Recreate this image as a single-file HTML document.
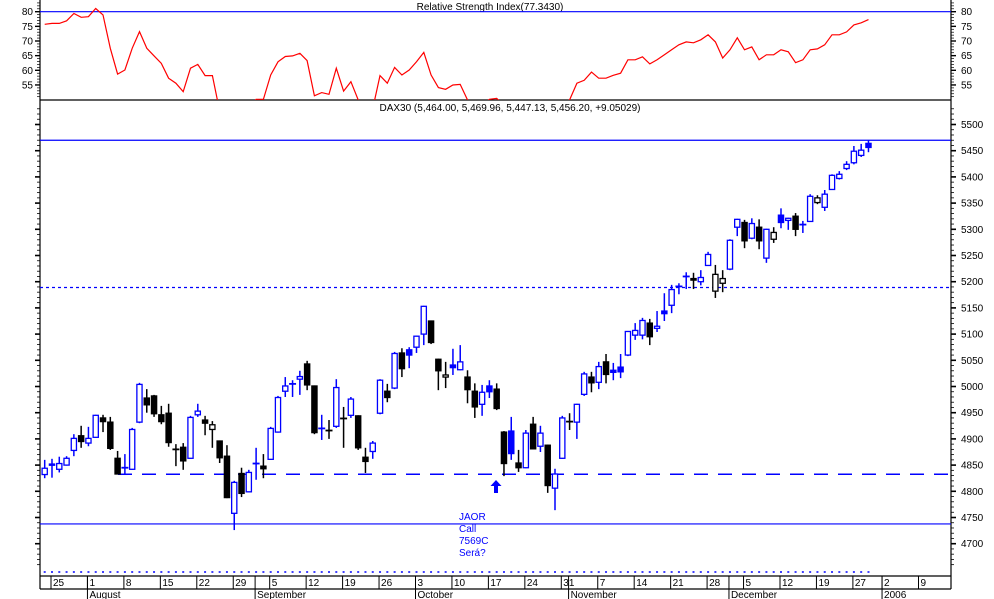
<!DOCTYPE html>
<html><head><meta charset="utf-8">
<style>
html,body{margin:0;padding:0;background:#fff;}
svg{display:block;font-family:"Liberation Sans",sans-serif;}
</style></head>
<body>
<svg id="chart" width="994" height="599" viewBox="0 0 994 599" xmlns="http://www.w3.org/2000/svg">
<defs>
 <clipPath id="rsiClip"><rect x="40" y="0" width="911" height="100"/></clipPath>
</defs>
<rect x="0" y="0" width="994" height="599" fill="#fff"/>
<g id="frame" stroke="#000" stroke-width="1.2">
 <line x1="40" y1="0" x2="40" y2="589"/>
 <line x1="951" y1="0" x2="951" y2="589"/>
 <line x1="40" y1="100" x2="951" y2="100"/>
 <line x1="40" y1="576" x2="951" y2="576"/>
 <line x1="40" y1="589" x2="951" y2="589"/>
</g>
<text x="490" y="10" font-size="10" text-anchor="middle">Relative Strength Index(77.3430)</text>
<text x="510" y="111" font-size="10" text-anchor="middle">DAX30 (5,464.00, 5,469.96, 5,447.13, 5,456.20, +9.05029)</text>
<g id="rsiAxis"></g>
<g id="priceAxis"></g>
<g id="refLines"></g>
<g id="rsiG" clip-path="url(#rsiClip)"></g>
<g id="candles"></g>
<g id="xAxis"></g>
<g fill="#0000ff" font-size="10">
 <path d="M496 480 L490.5 486 L494 486 L494 493 L498 493 L498 486 L501.5 486 Z"/>
 <text x="459" y="520">JAOR</text>
 <text x="459" y="532">Call</text>
 <text x="459" y="544">7569C</text>
 <text x="459" y="556">Será?</text>
</g>
</svg>
<script>
const opens=[4832,4851,4842,4850,4878,4906,4892,4903,4940,4932,4863,4845,4842,4932,4978,4982,4946,4949,4880,4884,4863,4946,4936,4918,4896,4867,4758,4834,4799,4853,4848,4861,4913,4991,5005,5014,5043,5001,4920,4916,4924,4939,4945,4944,4865,4876,4949,4991,4997,5064,5070,5075,5100,5125,5052,5018,5041,5032,5018,4991,4966,5001,4995,4913,4915,4854,4845,4928,4886,4888,4806,4863,4933,4932,4985,5018,5008,5047,5031,5037,5060,5098,5098,5121,5111,5144,5155,5191,5210,5206,5200,5231,5182,5197,5224,5304,5313,5283,5304,5245,5281,5327,5317,5325,5309,5315,5351,5342,5376,5397,5416,5427,5441,5464];
const highs=[4860,4862,4866,4867,4909,4925,4923,4946,4946,4942,4877,4871,4921,5007,4995,4984,4963,4967,4890,4892,4944,4967,4944,4934,4897,4888,4820,4845,4841,4883,4871,4923,4982,5018,5012,5030,5049,5002,4946,4936,5014,4961,4980,4945,4883,4896,5014,5005,5066,5073,5075,5097,5154,5126,5053,5047,5072,5079,5031,5006,5003,5012,5006,4915,4942,4879,4917,4942,4925,4889,4843,4944,4949,4967,5028,5028,5047,5062,5045,5062,5106,5121,5131,5129,5144,5178,5194,5197,5218,5217,5222,5257,5232,5222,5281,5320,5318,5321,5319,5301,5304,5340,5322,5331,5316,5367,5365,5375,5405,5411,5430,5459,5463,5469.96];
const lows=[4825,4826,4836,4849,4867,4883,4886,4902,4913,4879,4833,4833,4841,4930,4950,4942,4928,4885,4848,4841,4862,4942,4907,4883,4854,4787,4726,4789,4798,4822,4825,4860,4912,4980,4980,4984,4993,4909,4898,4900,4921,4883,4940,4879,4835,4862,4947,4970,4995,5018,5035,5064,5079,5081,4993,4997,5022,5031,4968,4940,4944,4978,4955,4829,4860,4837,4844,4880,4875,4797,4764,4862,4917,4900,4982,4989,4995,5006,5012,5016,5058,5089,5090,5079,5104,5125,5140,5176,5186,5186,5193,5230,5169,5180,5222,5287,5264,5281,5262,5236,5274,5302,5299,5287,5293,5314,5348,5335,5375,5395,5413,5424,5438,5447.13];
const closes=[4844,4852,4853,4863,4901,4895,4901,4945,4933,4882,4833,4845,4918,5004,4965,4948,4933,4893,4880,4858,4941,4953,4930,4927,4864,4788,4817,4796,4836,4853,4843,4920,4979,5001,5005,5019,5003,4912,4920,4916,4998,4939,4976,4883,4857,4892,5012,4979,5063,5034,5060,5096,5153,5084,5030,5022,5036,5047,4994,4961,4989,4990,4958,4853,4872,4845,4911,4881,4911,4811,4833,4940,4933,4966,5024,5007,5038,5023,5027,5028,5105,5107,5126,5095,5115,5139,5185,5191,5210,5203,5208,5252,5214,5206,5279,5319,5278,5311,5278,5300,5294,5313,5321,5300,5309,5363,5360,5367,5403,5405,5424,5449,5451,5456.20];
const rsiValues=[75.7,76.0,76.0,76.9,79.4,78.1,78.3,81.1,78.9,67.5,58.7,60.1,67.5,73.2,67.5,64.9,62.4,57.3,55.6,52.7,60.7,62.0,58.2,58.2,46,44,43,45,47,50.1,50.1,58.4,62.9,64.7,64.9,65.8,63.3,51.3,52.4,51.8,60.7,52.9,56.1,49.9,45,47,58.2,55.6,61.0,58.4,60.1,62.9,66.1,58.4,54.1,53.5,55.0,55.2,49.9,46,48,50.1,50.4,48,44,45,44,43,45,41,43,48,49.9,55.6,56.6,59.4,57.3,57.3,58.3,59,63.6,63.6,64.6,62.2,63.6,65.3,67.0,68.7,69.7,69.4,70.4,72.1,69.7,64.2,67.0,71.1,67.0,68.0,63.6,65.3,65.3,67.0,66.3,62.6,63.6,67.0,67.3,68.7,72.1,72.1,73.1,75.5,76.2,77.3];
const priceTicks=[5500,5450,5400,5350,5300,5250,5200,5150,5100,5050,5000,4950,4900,4850,4800,4750,4700];
const rsiTicks=[80,75,70,65,60,55];
const weekIdx=[1,6,11,16,21,26,31,36,41,46,51,56,61,66,71,76,81,86,91,96,101,106,111,115,120];
const weekLabels=['25','1','8','15','22','29','5','12','19','26','3','10','17','24','31','7','14','21','28','5','12','19','27','2','9'];
const monthIdx=[6,29,51,72,94,115];
const monthLabels=['August','September','October','November','December','2006'];
const levelHigh=5469.96, levelDotted=5189, levelDashed=4832.5, levelLow=4737.7, rsiLevel=80;

const NS='http://www.w3.org/2000/svg';
const BLUE='#0000ff';
function xAt(i){return 44.7+i*7.29;}
function yP(p){return 124.5+(5500-p)*0.524;}
function yR(v){return 11.7+(80-v)*2.93;}
function mk(tag,attrs,parent){const e=document.createElementNS(NS,tag);for(const k in attrs)e.setAttribute(k,attrs[k]);parent.appendChild(e);return e;}

// axes
const pa=document.getElementById('priceAxis');
for(let p=4660;p<=5530;p+=10){
  const y=yP(p);if(y<102||y>575)continue;
  const major=p%50===0;
  const t=mk('line',{x1:951,x2:major?956:954,y1:y,y2:y,stroke:'#000','stroke-width':major?1.6:0.8},pa);
  
  
  const t2=mk('line',{x1:major?35:37,x2:40,y1:y,y2:y,stroke:'#000','stroke-width':major?1.6:0.8},pa);
  
  
}
priceTicks.forEach(p=>{
  const t=mk('text',{x:961,y:yP(p)+3.5,'font-size':'10'},pa);t.textContent=p;
  
  
});
const ra=document.getElementById('rsiAxis');
for(let v=50;v<=84;v++){
  const y=yR(v);if(y<1||y>99)continue;
  const major=v%5===0;
  const t=mk('line',{x1:951,x2:major?956:954,y1:y,y2:y,stroke:'#000','stroke-width':major?1.4:0.7},ra);
  
  
  const t2=mk('line',{x1:major?35:37,x2:40,y1:y,y2:y,stroke:'#000','stroke-width':major?1.4:0.7},ra);
  
  
}
rsiTicks.forEach(v=>{
  const a=mk('text',{x:33,y:yR(v)+3.5,'font-size':'10','text-anchor':'end'},ra);a.textContent=v;
  
  
  const b=mk('text',{x:961,y:yR(v)+3.5,'font-size':'10'},ra);b.textContent=v;
  
  
});

// reference lines
const rl=document.getElementById('refLines');
let l;
l=mk('line',{x1:40,x2:951,y1:yR(rsiLevel),y2:yR(rsiLevel),stroke:BLUE,'stroke-width':1.2},rl);


l=mk('line',{x1:40,x2:951,y1:yP(levelHigh),y2:yP(levelHigh),stroke:BLUE,'stroke-width':1.2},rl);


l=mk('line',{x1:40,x2:951,y1:yP(levelDotted),y2:yP(levelDotted),stroke:BLUE,'stroke-width':1.2,'stroke-dasharray':'3 3'},rl);


l=mk('line',{x1:118,x2:951,y1:yP(levelDashed),y2:yP(levelDashed),stroke:BLUE,'stroke-width':1.5,'stroke-dasharray':'14 10'},rl);


l=mk('line',{x1:40,x2:951,y1:yP(levelLow),y2:yP(levelLow),stroke:BLUE,'stroke-width':1.2},rl);



// rsi
const rg=document.getElementById('rsiG');
const pts=rsiValues.map((v,i)=>xAt(i).toFixed(1)+','+yR(v).toFixed(1)).join(' ');
const pl=mk('polyline',{points:pts,fill:'none',stroke:'#ff0000','stroke-width':1.2},rg);



// candles
const cg=document.getElementById('candles');
for(let i=0;i<closes.length;i++){
  const x=xAt(i);
  const col=(i===0||closes[i]>=closes[i-1])?BLUE:'#000';
  const g=mk('g',{},cg);
  
  
  mk('line',{x1:x,x2:x,y1:yP(highs[i]),y2:yP(lows[i]),stroke:col,'stroke-width':1.5},g);
  if(opens[i]===closes[i]){
    mk('line',{x1:x-3.5,x2:x+3.5,y1:yP(closes[i]),y2:yP(closes[i]),stroke:col,'stroke-width':1.8},g);
  }else{
    const top=yP(Math.max(opens[i],closes[i])),bot=yP(Math.min(opens[i],closes[i]));
    const hollow=closes[i]>opens[i];
    mk('rect',{x:x-2.6,y:top,width:5.2,height:Math.max(bot-top,1.2),fill:hollow?'#fff':col,stroke:col,'stroke-width':1.3},g);
  }
  const m=mk('line',{x1:x-1,x2:x+1,y1:572,y2:572,stroke:BLUE,'stroke-width':1.5},cg);
  
  
}

// x axis
const xa=document.getElementById('xAxis');
weekIdx.forEach((idx,k)=>{
  const x=xAt(idx)-1;
  const t=mk('line',{x1:x,x2:x,y1:576,y2:589,stroke:'#000','stroke-width':1},xa);
  
  
  const tx=mk('text',{x:x+2,y:586,'font-size':'10'},xa);tx.textContent=weekLabels[k];
  
  
});
monthIdx.forEach((idx,k)=>{
  const x=xAt(idx)-1;
  const t=mk('line',{x1:x,x2:x,y1:576,y2:599,stroke:'#000','stroke-width':1},xa);
  
  
  const tx=mk('text',{x:x+2,y:598,'font-size':'10'},xa);tx.textContent=monthLabels[k];
  
  
});
</script>
</body></html>
